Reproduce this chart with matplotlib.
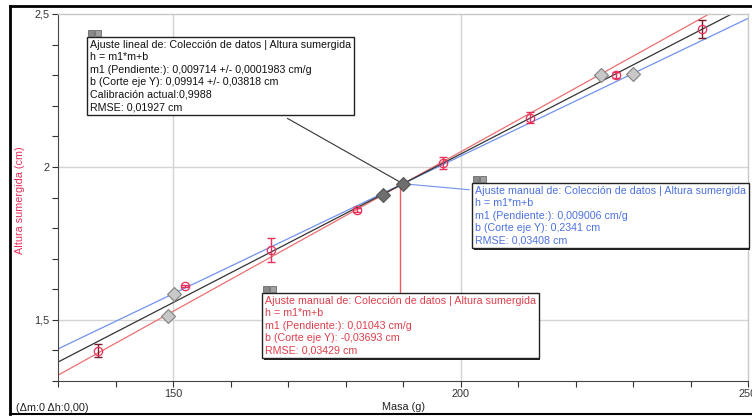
import matplotlib

matplotlib.use("Agg")
import matplotlib.pyplot as plt
import matplotlib.patheffects as pe
from matplotlib.lines import Line2D
from matplotlib.patches import Rectangle
import numpy as np

plt.rcParams["font.family"] = ["Liberation Sans", "DejaVu Sans"]

# measured data (Masa g, Altura cm, error)
masa = [137, 152, 167, 182, 197, 212, 227, 242]
altura = [1.399, 1.611, 1.729, 1.859, 2.013, 2.160, 2.300, 2.451]
error = [0.022, 0.004, 0.040, 0.008, 0.020, 0.018, 0.010, 0.030]

# fits: (slope, intercept)
fit_lineal = (0.009714, 0.09914)
fit_rojo = (0.01043, -0.03693)
fit_azul = (0.009006, 0.2341)

# handles of the manual fits
handles_light_m = [149.1, 150.1, 224.4, 230.0]
handles_light_h = [1.513, 1.585, 2.300, 2.304]
handles_dark_m = [186.6, 190.0]
handles_dark_h = [1.908, 1.945]

texto_lineal = [
    "Ajuste lineal de: Colección de datos | Altura sumergida",
    "h = m1*m+b",
    "m1 (Pendiente:): 0,009714 +/- 0,0001983 cm/g",
    "b (Corte eje Y): 0,09914 +/- 0,03818 cm",
    "Calibración actual:0,9988",
    "RMSE: 0,01927 cm",
]
texto_azul = [
    "Ajuste manual de: Colección de datos | Altura sumergida",
    "h = m1*m+b",
    "m1 (Pendiente:): 0,009006 cm/g",
    "b (Corte eje Y): 0,2341 cm",
    "RMSE: 0,03408 cm",
]
texto_rojo = [
    "Ajuste manual de: Colección de datos | Altura sumergida",
    "h = m1*m+b",
    "m1 (Pendiente:): 0,01043 cm/g",
    "b (Corte eje Y): -0,03693 cm",
    "RMSE: 0,03429 cm",
]

RED = "#e8305a"
RED_LINE = "#ec6f6f"
BLUE_LINE = "#6f92ee"
BLUE_TXT = "#4d72e0"
RED_TXT = "#de3f4c"
W, H = 752, 416
AX_L, AX_R, AX_T, AX_B = 58, 748, 14, 381

fig = plt.figure(figsize=(W / 100, H / 100), dpi=100)
ax = fig.add_axes([AX_L / W, 1 - AX_B / H, (AX_R - AX_L) / W, (AX_B - AX_T) / H])


def px(x, y):
    """figure pixel (top-left origin) -> axes fraction"""
    return (x - AX_L) / (AX_R - AX_L), (AX_B - y) / (AX_B - AX_T)


ax.set_xlim(130, 250)
ax.set_ylim(1.3, 2.5)

# grid
for g in (150, 200):
    ax.axvline(g, color="#d4d4d4", lw=1, zorder=0)
for g in (1.5, 2.0):
    ax.axhline(g, color="#d4d4d4", lw=1, zorder=0)

xs = np.array([130, 250])
ax.plot(xs, fit_rojo[0] * xs + fit_rojo[1], color=RED_LINE, lw=0.9, zorder=2)
ax.plot(xs, fit_azul[0] * xs + fit_azul[1], color=BLUE_LINE, lw=0.9, zorder=2)
ax.plot(xs, fit_lineal[0] * xs + fit_lineal[1], color="#333333", lw=0.9, zorder=2)

# data with error bars
for i, (m, h, e) in enumerate(zip(masa, altura, error)):
    c = "#7a1a2a" if i in (0, len(masa) - 1) else RED
    ax.errorbar(m, h, yerr=e, fmt="none", ecolor=c, elinewidth=1, capsize=3, capthick=1, zorder=4)
ax.plot(masa, altura, "o", ms=6, mfc="none", mec=RED, mew=0.9, zorder=5)

ax.plot(handles_light_m, handles_light_h, "D", ms=7, mfc="#c8c8c8", mec="#808080", mew=0.8, zorder=6)
ax.plot(handles_dark_m, handles_dark_h, "D", ms=7, mfc="#6e6e6e", mec="#555555", mew=0.8, zorder=6)

# connectors from the handle to the boxes
cx, cy = handles_dark_m[1], handles_dark_h[1]
ax.annotate("", xy=(cx, cy), xytext=px(285, 117), textcoords="axes fraction",
            arrowprops=dict(arrowstyle="-", color="#333333", lw=0.8), zorder=3)
ax.annotate("", xy=(cx, cy), xytext=px(472, 190), textcoords="axes fraction",
            arrowprops=dict(arrowstyle="-", color=BLUE_LINE, lw=0.8), zorder=3)
ax.plot([cx - 0.5, cx - 0.5], [cy, 1.5 + (320 - 292) / 306], color="#ee6060", lw=1, zorder=3)

# axes styling
ax.set_xticks(np.arange(130, 251, 10))
ax.set_xticklabels([str(v) if v % 50 == 0 else "" for v in range(130, 251, 10)])
yt = np.round(np.arange(1.3, 2.51, 0.1), 1)
ax.set_yticks(yt)
ax.set_yticklabels([("%g" % v).replace(".", ",") if v in (1.5, 2.0, 2.5) else "" for v in yt])
ax.tick_params(direction="out", length=4, width=0.8, labelsize=7.8, colors="#333333", pad=2)
for s in ("left", "bottom"):
    ax.spines[s].set_color("#444444")
    ax.spines[s].set_linewidth(0.8)
for s in ("top", "right"):
    ax.spines[s].set_color("#c8c8c8")
    ax.spines[s].set_linewidth(1)
ax.set_xlabel("Masa (g)", fontsize=7.8, labelpad=2, color="#222222")


def caja(x, y, lines, color):
    t = ax.text(*px(x, y), "\n".join(lines), transform=ax.transAxes, ha="left", va="top",
                fontsize=7.7, color=color, linespacing=1.3, zorder=10,
                bbox=dict(boxstyle="square,pad=0.25", fc="white", ec="#222222", lw=1))
    t.get_bbox_patch().set_path_effects(
        [pe.SimplePatchShadow(offset=(1.2, -1.2), shadow_rgbFace="#222222", alpha=1), pe.Normal()])
    # small window icons
    for k, dx in enumerate((0, 7)):
        ix, iy = px(x - 2 + dx, y - 4)
        ax.add_patch(Rectangle((ix, iy), 6 / (AX_R - AX_L), 6 / (AX_B - AX_T), transform=ax.transAxes,
                               fc="#8a8a8a" if k == 0 else "#a0a0a0", ec="#555555", lw=0.5,
                               clip_on=False, zorder=11))


caja(90, 40, texto_lineal, "#111111")
caja(475, 186, texto_azul, BLUE_TXT)
caja(265, 296, texto_rojo, RED_TXT)

fig.text(20 / W, 1 - 200 / H, "Altura sumergida (cm)", rotation=90, color=RED,
         fontsize=7.8, ha="center", va="center")
fig.text(16 / W, 1 - 408 / H, "(Δm:0 Δh:0,00)", fontsize=7.8, color="#222222", ha="left", va="center")

# outer window frame
fig.add_artist(Line2D([10 / W, 1], [1 - 6 / H, 1 - 6 / H], color="black", lw=2))
fig.add_artist(Line2D([10 / W, 10 / W], [1 - 6 / H, 1 - 414 / H], color="black", lw=2))
fig.add_artist(Line2D([10 / W, 1], [1 - 414 / H, 1 - 414 / H], color="black", lw=1.5))

fig.savefig("out.png", dpi=100)
